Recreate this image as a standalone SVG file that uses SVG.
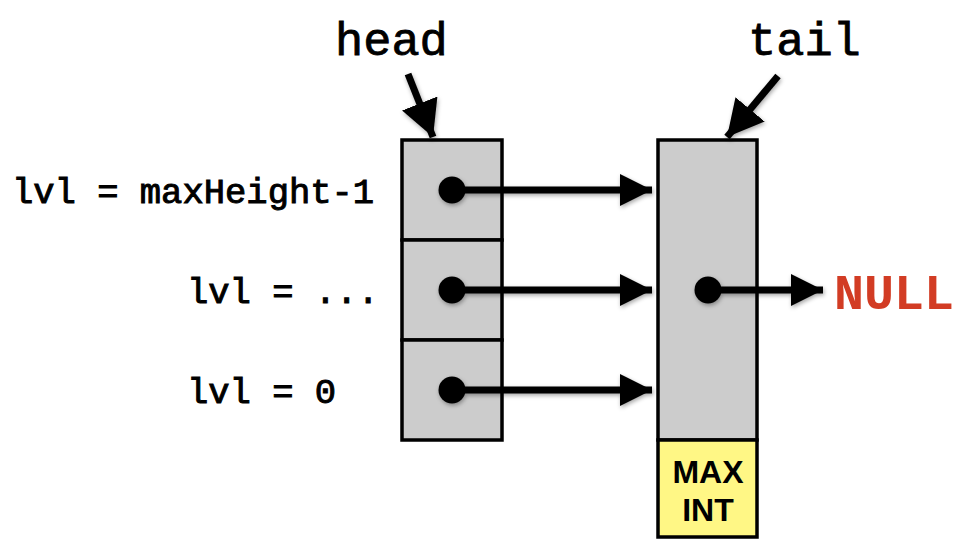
<svg xmlns="http://www.w3.org/2000/svg" width="970" height="544" viewBox="0 0 970 544">
  <defs>
    <filter id="sh" x="-20%" y="-50%" width="140%" height="200%">
      <feDropShadow dx="1" dy="2" stdDeviation="2" flood-color="#000" flood-opacity="0.35"/>
    </filter>
    <marker id="ah" viewBox="0 0 32 32" refX="32" refY="16" markerWidth="32" markerHeight="32" markerUnits="userSpaceOnUse" orient="auto">
      <path d="M0,0 L32,16 L0,32 Z" fill="#000"/>
    </marker>
    <marker id="ah2" viewBox="0 0 36 38" refX="36" refY="19" markerWidth="36" markerHeight="38" markerUnits="userSpaceOnUse" orient="auto">
      <path d="M0,0 L36,19 L0,38 Z" fill="#000"/>
    </marker>
  </defs>
  <style>
    .cell { fill: #cccccc; stroke: #000; stroke-width: 3.5; }
    .maxint { fill: #fff785; stroke: #000; stroke-width: 3.5; }
    .lbl { font-family: "Liberation Mono", "Courier New", monospace; font-size: 35.5px; fill: #000; stroke: #000; stroke-width: 1; }
    .ptr { font-family: "Liberation Mono", "Courier New", monospace; font-size: 47px; fill: #000; stroke: #000; stroke-width: 0.8; }
    .null { font-family: "Liberation Mono", "Courier New", monospace; font-weight: bold; font-size: 50px; fill: #d23c24; }
    .mi { font-family: "Liberation Sans", Arial, sans-serif; font-weight: bold; font-size: 32px; fill: #000; text-anchor: middle; }
    .conn { stroke: #000; stroke-width: 7; fill: none; marker-end: url(#ah); }
    .ptrconn { stroke: #000; stroke-width: 7; fill: none; marker-end: url(#ah2); }
    .dot { fill: #000; }
  </style>

  <g id="labels">
    <text class="lbl" x="12" y="203">lvl = maxHeight-1</text>
    <text class="lbl" x="187" y="303">lvl = ...</text>
    <text class="lbl" x="187" y="403">lvl = 0</text>
  </g>

  <g id="head-node">
    <rect class="cell" x="402" y="140" width="100" height="100"/>
    <rect class="cell" x="402" y="240" width="100" height="100"/>
    <rect class="cell" x="402" y="340" width="100" height="100"/>
  </g>

  <g id="tail-node">
    <rect class="cell" x="658" y="140" width="99" height="300"/>
    <rect class="maxint" x="658" y="440" width="99" height="97"/>
    <text class="mi" x="708" y="483">MAX</text>
    <text class="mi" x="708" y="521">INT</text>
  </g>

  <g id="head-label">
    <text class="ptr" x="335" y="55">head</text>
  </g>
  <g id="tail-label">
    <text class="ptr" x="748" y="55">tail</text>
  </g>

  <g id="null-label">
    <text class="null" x="834" y="309">NULL</text>
  </g>

  <g id="connectors" filter="url(#sh)">
    <line class="ptrconn" x1="408" y1="74" x2="433" y2="137"/>
    <line class="ptrconn" x1="778" y1="76" x2="727" y2="137"/>
    <circle class="dot" cx="452" cy="190" r="13.5"/>
    <line class="conn" x1="452" y1="190" x2="652" y2="190"/>
    <circle class="dot" cx="452" cy="290" r="13.5"/>
    <line class="conn" x1="452" y1="290" x2="652" y2="290"/>
    <circle class="dot" cx="452" cy="390" r="13.5"/>
    <line class="conn" x1="452" y1="390" x2="652" y2="390"/>
    <circle class="dot" cx="708" cy="290" r="13.5"/>
    <line class="conn" x1="708" y1="290" x2="823" y2="290"/>
  </g>
</svg>
